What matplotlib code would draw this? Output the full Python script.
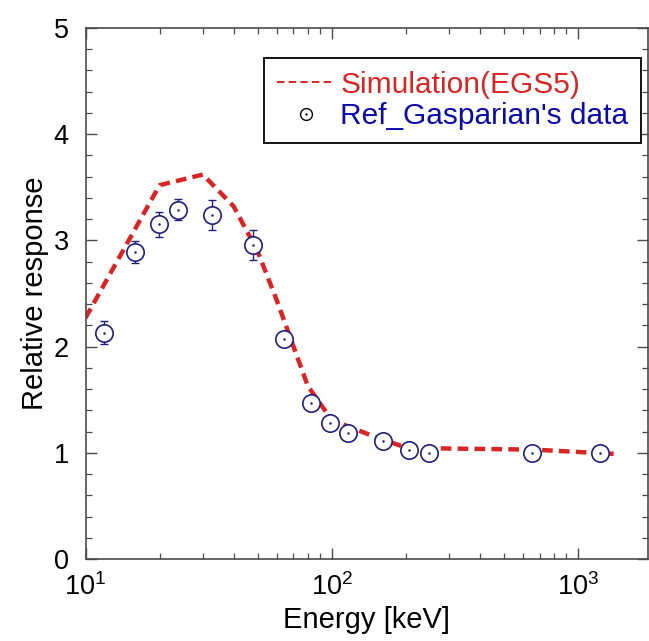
import matplotlib
matplotlib.use("Agg")
import matplotlib.pyplot as plt
from matplotlib.lines import Line2D
from matplotlib.legend_handler import HandlerTuple
from matplotlib.ticker import LogLocator, MultipleLocator

plt.rcParams['font.family'] = ['Liberation Sans', 'DejaVu Sans']
plt.rcParams['mathtext.default'] = 'regular'
plt.rcParams['mathtext.fontset'] = 'custom'
plt.rcParams['mathtext.rm'] = 'Liberation Sans'

# Simulation (EGS5)
sim_energy = [10, 20, 30, 40, 50, 60, 80, 100, 150, 200, 300, 662, 1400]
sim_resp = [2.27, 3.52, 3.62, 3.32, 2.90, 2.43, 1.63, 1.31, 1.15, 1.05, 1.04, 1.03, 0.99]

# Reference Gasparian's data
ref_energy = [11.9, 15.9, 19.8, 23.8, 32.8, 48, 64.3, 82.2, 98.4, 117, 162, 206, 248, 653, 1233]
ref_resp = [2.13, 2.89, 3.15, 3.29, 3.24, 2.96, 2.07, 1.47, 1.28, 1.19, 1.11, 1.03, 1.00, 1.00, 1.00]
ref_err = [0.11, 0.10, 0.12, 0.10, 0.14, 0.14, 0.03, 0.03, 0.03, 0.03, 0.03, 0.02, 0.02, 0.02, 0.02]

red = '#d92424'
navy = '#1f1f7a'
blue_text = '#0a0aa8'
spine_c = '#4a4a4a'

fig = plt.figure(figsize=(6.49, 6.41), dpi=100)
ax = fig.add_axes([85.5/649, 1-559/641, (648-85.5)/649, (559-28)/641])

ax.plot(sim_energy, sim_resp, color=red, lw=3.2, dashes=(2.4, 1.4), zorder=2)

ax.errorbar(ref_energy, ref_resp, yerr=ref_err, fmt='none', ecolor=navy,
            elinewidth=1.0, capsize=3, capthick=1.0, zorder=3)
ax.plot(ref_energy, ref_resp, 'o', ms=12.5, mfc='white', mec=navy, mew=1.2, zorder=4)
ax.plot(ref_energy, ref_resp, '.', ms=1.6, color=navy, zorder=5)

ax.set_xscale('log')
ax.set_xlim(10, 1930)
ax.set_ylim(0, 5)
ax.yaxis.set_major_locator(MultipleLocator(1))
ax.yaxis.set_minor_locator(MultipleLocator(0.2))
ax.xaxis.set_major_locator(LogLocator(base=10))
ax.xaxis.set_minor_locator(LogLocator(base=10, subs=range(2, 10)))

for s in ax.spines.values():
    s.set_color(spine_c)
    s.set_linewidth(1.2)

ax.tick_params(which='both', direction='in', top=True, right=True, color=spine_c)
ax.tick_params(which='major', length=8, width=1.0)
ax.tick_params(which='minor', length=4.5, width=0.9)
ax.tick_params(axis='x', which='major', labelsize=19.5, pad=10)
ax.tick_params(axis='y', which='major', labelsize=19.5, pad=12)

ax.set_xlabel('Energy [keV]', fontsize=21, labelpad=4)
ax.set_ylabel('Relative response', fontsize=21, labelpad=3)

h_line = Line2D([], [], color=red, lw=1.4, dashes=(3.8, 2.2))
h_circ = Line2D([], [], ls='none', marker='o', ms=8.5, mfc='white', mec='black', mew=1.0)
h_dot = Line2D([], [], ls='none', marker='.', ms=1.5, color='black')
leg = fig.legend([h_line, (h_circ, h_dot)], ['Simulation(EGS5)', "Ref_Gasparian's data"],
                 handler_map={tuple: HandlerTuple(ndivide=1)},
                 loc='upper right', bbox_to_anchor=(641/649, 1-58/641),
                 bbox_transform=fig.transFigure, borderaxespad=0,
                 fontsize=21.5, handlelength=1.95, handletextpad=0.17,
                 borderpad=0.42, labelspacing=0.12, fancybox=False, framealpha=1,
                 edgecolor='black', labelcolor=[red, blue_text])
leg.get_frame().set_linewidth(1.3)

fig.savefig('out.png', dpi=100)
